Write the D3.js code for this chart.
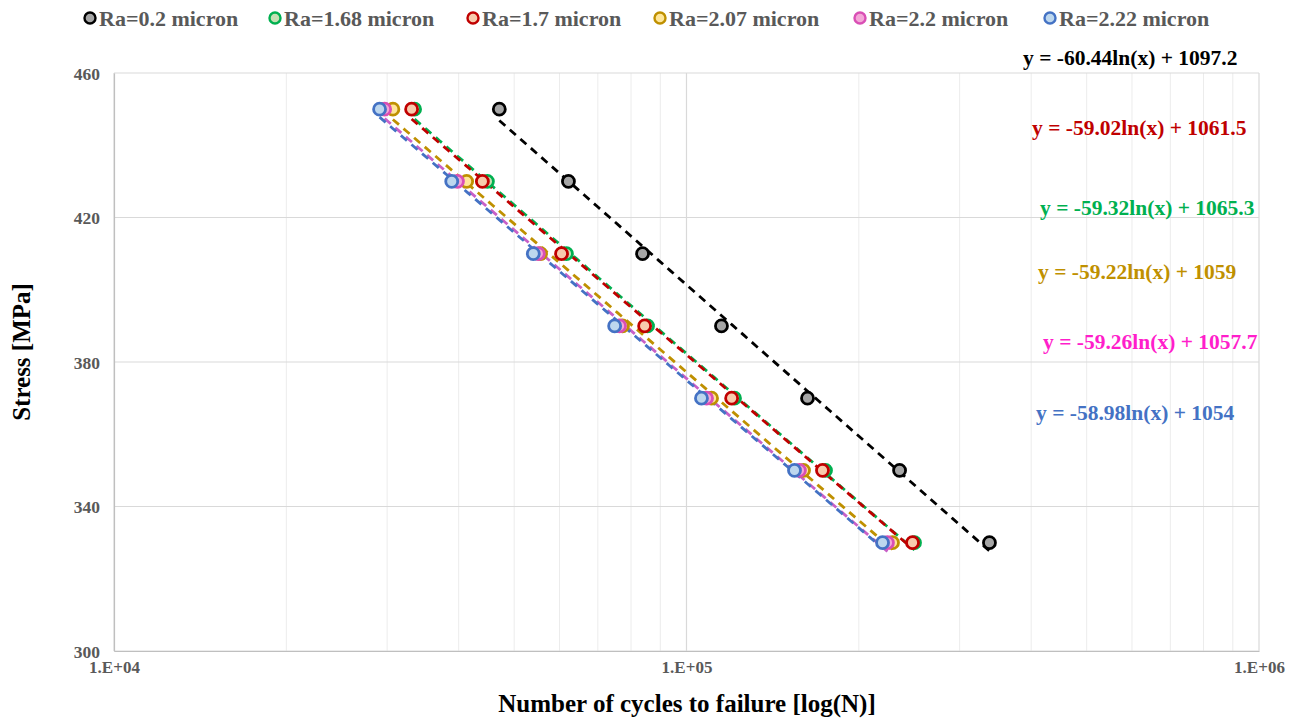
<!DOCTYPE html>
<html>
<head>
<meta charset="utf-8">
<script src="https://cdn.jsdelivr.net/npm/d3@7"></script>
<style>
  html, body { margin: 0; padding: 0; background: #ffffff; }
  svg { display: block; }
  text { font-family: "Liberation Serif", "Times New Roman", serif; font-weight: bold; }
</style>
</head>
<body>
<svg id="chart" width="1297" height="718"></svg>
<script>
// Stress levels tested (MPa)
const stressLevels = [450, 430, 410, 390, 370, 350, 330];

// Cycles to failure for each surface roughness
const seriesNames = ["Ra=0.2 micron", "Ra=1.68 micron", "Ra=1.7 micron", "Ra=2.07 micron", "Ra=2.2 micron", "Ra=2.22 micron"];
const cyclesRa020 = [47100, 62200, 83800, 115100, 162700, 235600, 338200];
const cyclesRa168 = [33500, 44900, 61700, 85500, 121300, 174900, 250200];
const cyclesRa170 = [33100, 44000, 60500, 84500, 119900, 172800, 248200];
const cyclesRa207 = [30700, 41300, 55600, 77300, 110600, 160100, 229000];
const cyclesRa220 = [29700, 39800, 55100, 76400, 108400, 157500, 224400];
const cyclesRa222 = [29100, 38900, 54000, 74900, 106200, 154400, 220000];

// Logarithmic trendline coefficients: y = slope*ln(x) + intercept
const trendSlopes = [-60.44, -59.32, -59.02, -59.22, -59.26, -58.98];
const trendIntercepts = [1097.2, 1065.3, 1061.5, 1059, 1057.7, 1054];
const trendLabels = [
  "y = -60.44ln(x) + 1097.2",
  "y = -59.32ln(x) + 1065.3",
  "y = -59.02ln(x) + 1061.5",
  "y = -59.22ln(x) + 1059",
  "y = -59.26ln(x) + 1057.7",
  "y = -58.98ln(x) + 1054"
];

// Axis ticks
const xTicks = [1e4, 1e5, 1e6];
const yTicks = [300, 340, 380, 420, 460];

// Styling per series
const strokeColors = ["#000000", "#00b050", "#c00000", "#bf9000", "#d94fb5", "#4472c4"];
const fillColors   = ["#a6a6a6", "#c5e0b4", "#f8cbad", "#ffe699", "#f4a6d7", "#bdd7ee"];
const lineColors   = ["#000000", "#00b050", "#c00000", "#bf9000", "#c860c8", "#4472c4"];
const labelColors  = ["#000000", "#00b050", "#c00000", "#bf9000", "#ff1ecb", "#4472c4"];

const cycles = [cyclesRa020, cyclesRa168, cyclesRa170, cyclesRa207, cyclesRa220, cyclesRa222];

const svg = d3.select("#chart");
const margin = { left: 114, right: 1259, top: 73, bottom: 651 };

const x = d3.scaleLog().domain([1e4, 1e6]).range([margin.left, margin.right]);
const y = d3.scaleLinear().domain([300, 460]).range([margin.bottom, margin.top]);

// Vertical gridlines: minor at 2..9 per decade, major at decades
const minorX = [];
for (let d = 1e4; d < 1e6; d *= 10) for (let k = 2; k <= 9; k++) minorX.push(d * k);
svg.append("g").selectAll("line").data(minorX).join("line")
  .attr("x1", d => x(d)).attr("x2", d => x(d))
  .attr("y1", margin.top).attr("y2", margin.bottom)
  .attr("stroke", "#ececec").attr("stroke-width", 1);
svg.append("g").selectAll("line").data(xTicks).join("line")
  .attr("x1", d => x(d)).attr("x2", d => x(d))
  .attr("y1", margin.top).attr("y2", margin.bottom)
  .attr("stroke", "#d9d9d9").attr("stroke-width", 1.2);

// Horizontal gridlines
svg.append("g").selectAll("line").data(yTicks).join("line")
  .attr("x1", margin.left).attr("x2", margin.right)
  .attr("y1", d => y(d)).attr("y2", d => y(d))
  .attr("stroke", "#d9d9d9").attr("stroke-width", 1.2);

// Axes
const xAxis = d3.axisBottom(x).tickValues(xTicks).tickSize(0)
  .tickFormat(d => "1.E+0" + Math.round(Math.log10(d)));
const gx = svg.append("g").attr("transform", `translate(0,${margin.bottom})`).call(xAxis);
gx.select(".domain").attr("stroke", "#bfbfbf").attr("stroke-width", 1.2);
gx.selectAll("text").attr("dy", "0").attr("y", 22)
  .attr("font-size", 17).attr("fill", "#595959")
  .attr("font-family", "Liberation Serif, serif").attr("font-weight", "bold");

const yAxis = d3.axisLeft(y).tickValues(yTicks).tickSize(0);
const gy = svg.append("g").attr("transform", `translate(${margin.left},0)`).call(yAxis);
gy.select(".domain").attr("stroke", "#bfbfbf").attr("stroke-width", 1.2);
gy.selectAll("text").attr("x", -14).attr("dy", "0.35em")
  .attr("font-size", 17.5).attr("fill", "#595959")
  .attr("font-family", "Liberation Serif, serif").attr("font-weight", "bold");

// Axis titles
svg.append("text").attr("x", 687).attr("y", 712)
  .attr("text-anchor", "middle").attr("font-size", 25).attr("fill", "#000")
  .text("Number of cycles to failure [log(N)]");
svg.append("text").attr("transform", `translate(30,352) rotate(-90)`)
  .attr("text-anchor", "middle").attr("font-size", 25).attr("fill", "#000")
  .text("Stress [MPa]");

// Trendlines (from the fitted equations, spanning each series' data range)
const plotG = svg.append("g");
cycles.forEach((c, i) => {
  const lo = d3.min(c), hi = d3.max(c);
  const pts = d3.range(0, 41).map(t => {
    const n = Math.exp(Math.log(lo) + (Math.log(hi) - Math.log(lo)) * t / 40);
    return [n, trendSlopes[i] * Math.log(n) + trendIntercepts[i]];
  });
  plotG.append("path")
    .datum(pts)
    .attr("d", d3.line().x(d => x(d[0])).y(d => y(d[1])))
    .attr("fill", "none")
    .attr("stroke", lineColors[i])
    .attr("stroke-width", 2.8)
    .attr("stroke-dasharray", "8,6");
});

// Markers
cycles.forEach((c, i) => {
  plotG.append("g").selectAll("circle").data(c.map((n, k) => [n, stressLevels[k]])).join("circle")
    .attr("cx", d => x(d[0])).attr("cy", d => y(d[1])).attr("r", 6)
    .attr("fill", fillColors[i]).attr("stroke", strokeColors[i]).attr("stroke-width", 2.8);
});

// Equation labels
const eqX = [1023, 1040, 1032, 1038, 1043, 1036];
const eqY = [65, 215, 135, 279, 349, 420];
trendLabels.forEach((t, i) => {
  svg.append("text").attr("x", eqX[i]).attr("y", eqY[i])
    .attr("font-size", 21.5).attr("fill", labelColors[i]).text(t);
});

// Legend
const legX = [90, 275, 473, 660, 860, 1050];
const leg = svg.append("g");
seriesNames.forEach((name, i) => {
  leg.append("circle").attr("cx", legX[i]).attr("cy", 18).attr("r", 5.5)
    .attr("fill", fillColors[i]).attr("stroke", strokeColors[i]).attr("stroke-width", 2.4);
  leg.append("text").attr("x", legX[i] + 9).attr("y", 26)
    .attr("font-size", 22).attr("fill", "#595959").text(name);
});
</script>
</body>
</html>
